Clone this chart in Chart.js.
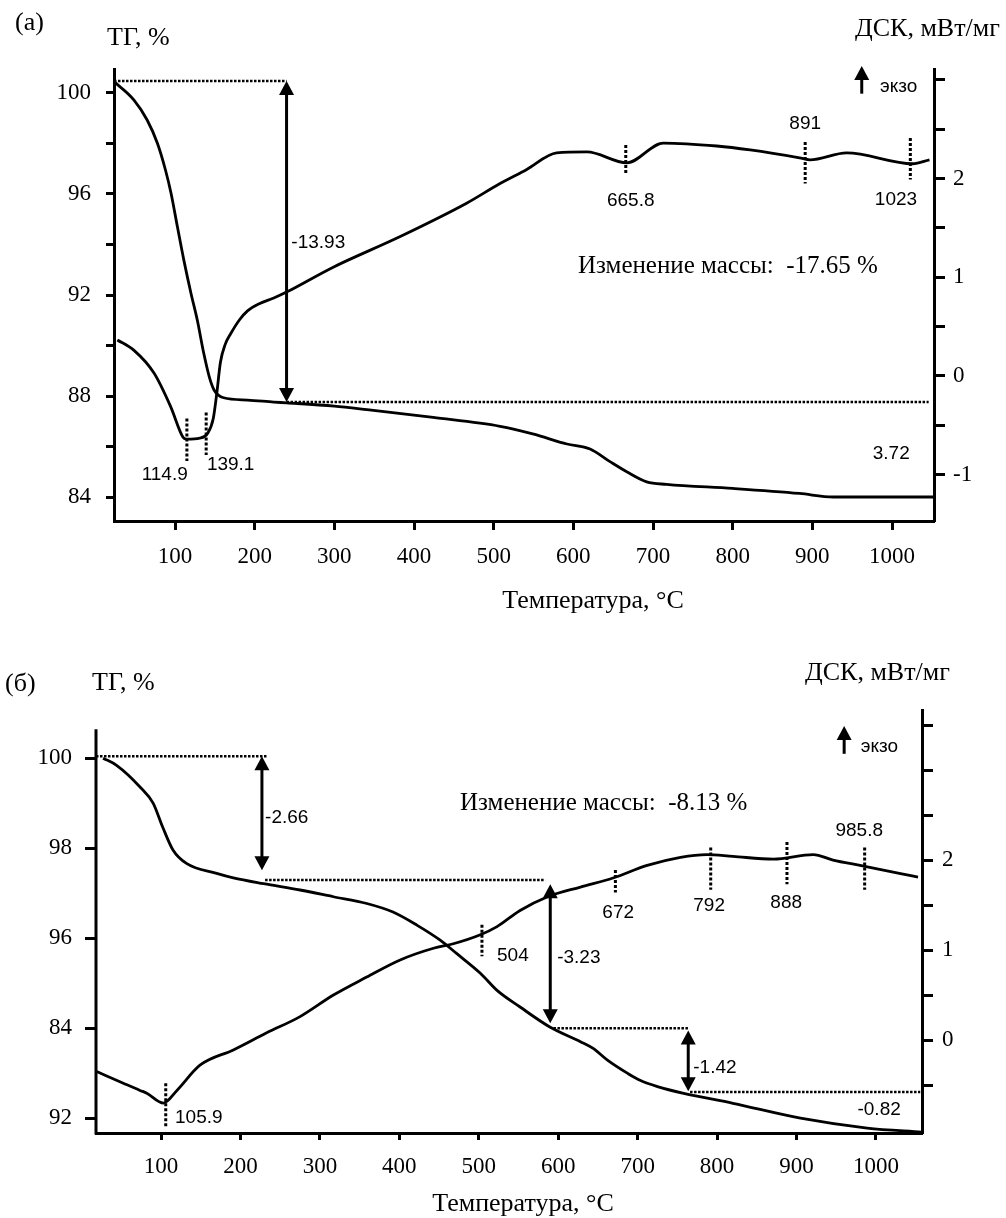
<!DOCTYPE html>
<html lang="ru">
<head>
<meta charset="utf-8">
<title>ТГ / ДСК</title>
<script src="https://cdn.jsdelivr.net/npm/chart.js@4/dist/chart.umd.min.js"></script>
<style>
  html, body { margin: 0; padding: 0; background: #fff; }
  #page { position: relative; width: 1006px; height: 1218px; overflow: hidden;
          font-family: 'Liberation Serif', 'Times New Roman', serif; color: #000; }
  canvas { position: absolute; left: 0; }
  .lbl { position: absolute; white-space: pre; line-height: 1; font-size: 26px; }
  .mid { transform: translateX(-50%); }
</style>
</head>
<body>
<div id="page">
  <canvas id="chartA" width="1006" height="620" style="top:0"></canvas>
  <canvas id="chartB" width="1006" height="598" style="top:620px"></canvas>

  <div class="lbl" style="left:15px;top:9px">(а)</div>
  <div class="lbl" style="left:107px;top:24px">ТГ, %</div>
  <div class="lbl" style="left:855px;top:15px">ДСК, мВт/мг</div>
  <div class="lbl" style="left:578px;top:252px;font-size:25px">Изменение массы:  -17.65 %</div>
  <div class="lbl mid" style="left:593px;top:587px">Температура, °С</div>

  <div class="lbl" style="left:5px;top:670px">(б)</div>
  <div class="lbl" style="left:92px;top:669px">ТГ, %</div>
  <div class="lbl" style="left:805px;top:659px">ДСК, мВт/мг</div>
  <div class="lbl" style="left:460px;top:789px;font-size:25px">Изменение массы:  -8.13 %</div>
  <div class="lbl mid" style="left:523px;top:1190px">Температура, °С</div>
</div>

<script>
// ---- (а) ----
const tgTempA = [23.5, 48.5, 65, 78, 88, 95, 103, 111, 120, 128, 136, 143, 149, 161, 191, 224, 240, 300, 341, 424, 508, 549, 592, 621, 646, 667, 692, 717, 800, 884, 926, 1052];
const tgValA  = [100.45, 99.72, 98.93, 98.0, 96.95, 96.03, 94.7, 93.39, 92.07, 91.0, 89.7, 88.76, 88.24, 87.93, 87.84, 87.76, 87.73, 87.6, 87.46, 87.15, 86.8, 86.5, 86.1, 85.9, 85.4, 85.0, 84.6, 84.5, 84.34, 84.14, 84.0, 84.0];
const dscTempA = [27.6, 48.5, 73.6, 94.5, 110, 115, 131, 141, 148, 152.5, 157, 163, 170, 181, 191, 205, 224, 240, 298, 382, 466, 508, 541, 579, 617, 667, 713, 780, 822, 884, 897, 943, 1026, 1047];
const dscValA  = [0.365, 0.26, 0.03, -0.31, -0.62, -0.64, -0.63, -0.58, -0.43, -0.17, 0.14, 0.32, 0.43, 0.57, 0.66, 0.73, 0.79, 0.85, 1.10, 1.41, 1.75, 1.95, 2.09, 2.26, 2.27, 2.16, 2.36, 2.33, 2.29, 2.21, 2.19, 2.26, 2.15, 2.19];

// ---- (б) ----
const tgTempB = [27, 44, 73.5, 90, 102, 115, 132, 170, 191, 229, 275, 317, 359, 392, 422, 451, 472, 502, 523, 552, 590, 628, 644, 662, 687, 703, 725, 758, 820, 905, 989, 1058];
const tgValB  = [100.0, 99.84, 99.36, 99.0, 98.47, 97.96, 97.66, 97.44, 97.34, 97.21, 97.07, 96.92, 96.77, 96.58, 96.29, 95.96, 95.66, 95.22, 94.84, 94.47, 94.02, 93.7, 93.55, 93.29, 93.0, 92.84, 92.7, 92.55, 92.33, 92.0, 91.78, 91.69];
const dscTempB = [19, 52.5, 73.5, 82, 103, 120, 149, 191, 233, 275, 317, 359, 401, 443, 468, 502, 523, 552, 586, 628, 669, 712, 754, 787, 820, 871, 921, 946, 980, 1031, 1053];
const dscValB  = [-0.35, -0.48, -0.56, -0.59, -0.70, -0.56, -0.28, -0.11, 0.08, 0.26, 0.50, 0.70, 0.89, 1.02, 1.07, 1.17, 1.26, 1.44, 1.59, 1.70, 1.80, 1.94, 2.03, 2.06, 2.04, 2.01, 2.06, 2.0, 1.94, 1.85, 1.81];

// ticks
const tempTicks = [100, 200, 300, 400, 500, 600, 700, 800, 900, 1000];
const tgTicksA  = [84, 86, 88, 90, 92, 94, 96, 98, 100];
const tgLabelsA = ['84', '', '88', '', '92', '', '96', '', '100'];
const dscTicksA  = [-1, -0.5, 0, 0.5, 1, 1.5, 2, 2.5, 3];
const dscLabelsA = ['-1', '', '0', '', '1', '', '2', '', ''];
const tgTicksB  = [92, 94, 96, 98, 100];
const tgLabelsB = ['92', '84', '96', '98', '100'];
const dscTicksB  = [-0.5, 0, 0.5, 1, 1.5, 2, 2.5, 3, 3.5];
const dscLabelsB = ['', '0', '', '1', '', '2', '', '', ''];

function pairs(xs, ys) {
    return xs.map((x, i) => ({ x: x, y: ys[i] }));
}

// annotation layer: dotted lines, arrows, peak labels (data coordinates)
function notesPlugin(notes) {
    return {
        id: 'notes',
        afterDatasetsDraw(chart) {
            const ctx = chart.ctx;
            const sx = chart.scales.x;
            const P = (t, v, ax) => [sx.getPixelForValue(t), chart.scales[ax].getPixelForValue(v)];
            const head = (x, y, d) => {           // tip at (x,y), d = +1 points down
                ctx.beginPath();
                ctx.moveTo(x, y);
                ctx.lineTo(x - 7.5, y - d * 14);
                ctx.lineTo(x + 7.5, y - d * 14);
                ctx.closePath();
                ctx.fill();
            };
            ctx.save();
            ctx.strokeStyle = '#000';
            ctx.fillStyle = '#000';
            notes.forEach(n => {
                if (n.kind === 'axisline') {
                    // left axis line that starts below the top of the plot
                    const y0 = chart.scales[n.axis].getPixelForValue(n.v0);
                    const xl = chart.chartArea.left;
                    ctx.lineWidth = 3;
                    ctx.setLineDash([]);
                    ctx.beginPath(); ctx.moveTo(xl, y0); ctx.lineTo(xl, chart.chartArea.bottom + 1.5); ctx.stroke();
                } else if (n.kind === 'hdots') {
                    const a = P(n.t0, n.v, n.axis), b = P(n.t1, n.v, n.axis);
                    ctx.lineWidth = 2.5;
                    ctx.setLineDash([2.5, 1.5]);
                    ctx.beginPath(); ctx.moveTo(a[0], a[1]); ctx.lineTo(b[0], b[1]); ctx.stroke();
                } else if (n.kind === 'vdots') {
                    const a = P(n.t, n.v0, n.axis), b = P(n.t, n.v1, n.axis);
                    ctx.lineWidth = 3;
                    ctx.setLineDash([3, 2]);
                    ctx.beginPath(); ctx.moveTo(a[0], a[1]); ctx.lineTo(b[0], b[1]); ctx.stroke();
                } else if (n.kind === 'arrow') {
                    const a = P(n.t, n.v0, n.axis), b = P(n.t, n.v1, n.axis);
                    const d = Math.sign(b[1] - a[1]);
                    let y0 = a[1];
                    if (n.heads === 2) { head(a[0], a[1], -d); y0 = a[1] + d * 13; }
                    head(b[0], b[1], d);
                    ctx.lineWidth = 3;
                    ctx.setLineDash([]);
                    ctx.beginPath(); ctx.moveTo(a[0], y0); ctx.lineTo(b[0], b[1] - d * 13); ctx.stroke();
                } else if (n.kind === 'text') {
                    const p = P(n.t, n.v, n.axis);
                    ctx.font = (n.size || 19) + "px 'Liberation Sans', Arial, sans-serif";
                    ctx.textAlign = n.align || 'center';
                    ctx.textBaseline = 'middle';
                    ctx.fillText(n.text, p[0], p[1]);
                }
            });
            ctx.restore();
        }
    };
}

const notesA = [
    { kind: 'hdots', axis: 'tg', v: 100.47, t0: 23.4, t1: 240 },
    { kind: 'arrow', axis: 'tg', t: 240, v0: 100.47, v1: 87.76, heads: 2 },
    { kind: 'hdots', axis: 'tg', v: 87.76, t0: 240, t1: 1046 },
    { kind: 'text', axis: 'tg', t: 246, v: 94.06, text: '-13.93', align: 'left' },
    { kind: 'vdots', axis: 'dsc', t: 114.9, v0: -0.43, v1: -0.86 },
    { kind: 'text', axis: 'dsc', t: 116, v: -1.0, text: '114.9', align: 'right' },
    { kind: 'vdots', axis: 'dsc', t: 139.1, v0: -0.37, v1: -0.80 },
    { kind: 'text', axis: 'dsc', t: 140, v: -0.90, text: '139.1', align: 'left' },
    { kind: 'vdots', axis: 'dsc', t: 665.8, v0: 2.34, v1: 2.04 },
    { kind: 'text', axis: 'dsc', t: 672, v: 1.78, text: '665.8' },
    { kind: 'vdots', axis: 'dsc', t: 891, v0: 2.37, v1: 1.95 },
    { kind: 'text', axis: 'dsc', t: 891, v: 2.56, text: '891' },
    { kind: 'vdots', axis: 'dsc', t: 1023, v0: 2.41, v1: 1.99 },
    { kind: 'text', axis: 'dsc', t: 1005, v: 1.79, text: '1023' },
    { kind: 'text', axis: 'dsc', t: 999, v: -0.79, text: '3.72' },
    { kind: 'arrow', axis: 'dsc', t: 962, v0: 2.86, v1: 3.14, heads: 1 },
    { kind: 'text', axis: 'dsc', t: 985, v: 2.93, text: 'экзо', align: 'left' }
];

const notesB = [
    { kind: 'axisline', axis: 'tg', v0: 100.64 },
    { kind: 'hdots', axis: 'tg', v: 100.04, t0: 18.1, t1: 233.5 },
    { kind: 'arrow', axis: 'tg', t: 227, v0: 100.04, v1: 97.51, heads: 2 },
    { kind: 'text', axis: 'tg', t: 231, v: 98.67, text: '-2.66', align: 'left' },
    { kind: 'hdots', axis: 'tg', v: 97.29, t0: 231, t1: 583.6 },
    { kind: 'arrow', axis: 'tg', t: 590, v0: 97.2, v1: 94.11, heads: 2 },
    { kind: 'text', axis: 'tg', t: 598.7, v: 95.56, text: '-3.23', align: 'left' },
    { kind: 'hdots', axis: 'tg', v: 94.0, t0: 594, t1: 763.7 },
    { kind: 'arrow', axis: 'tg', t: 763.7, v0: 93.95, v1: 92.6, heads: 2 },
    { kind: 'text', axis: 'tg', t: 770, v: 93.11, text: '-1.42', align: 'left' },
    { kind: 'hdots', axis: 'tg', v: 92.58, t0: 766, t1: 1055.8 },
    { kind: 'text', axis: 'tg', t: 1004, v: 92.18, text: '-0.82' },
    { kind: 'vdots', axis: 'dsc', t: 105.9, v0: -0.48, v1: -0.96 },
    { kind: 'text', axis: 'dsc', t: 117.6, v: -0.86, text: '105.9', align: 'left' },
    { kind: 'vdots', axis: 'dsc', t: 504, v0: 1.28, v1: 0.93 },
    { kind: 'text', axis: 'dsc', t: 523, v: 0.94, text: '504', align: 'left' },
    { kind: 'vdots', axis: 'dsc', t: 672, v0: 1.89, v1: 1.64 },
    { kind: 'text', axis: 'dsc', t: 675.5, v: 1.41, text: '672' },
    { kind: 'vdots', axis: 'dsc', t: 792, v0: 2.14, v1: 1.67 },
    { kind: 'text', axis: 'dsc', t: 790, v: 1.49, text: '792' },
    { kind: 'vdots', axis: 'dsc', t: 888, v0: 2.2, v1: 1.73 },
    { kind: 'text', axis: 'dsc', t: 887, v: 1.53, text: '888' },
    { kind: 'vdots', axis: 'dsc', t: 985.8, v0: 2.14, v1: 1.67 },
    { kind: 'text', axis: 'dsc', t: 979, v: 2.33, text: '985.8' },
    { kind: 'arrow', axis: 'dsc', t: 960, v0: 3.18, v1: 3.49, heads: 1 },
    { kind: 'text', axis: 'dsc', t: 981, v: 3.26, text: 'экзо', align: 'left' }
];

const serif = "'Liberation Serif', 'Times New Roman', serif";

function axis(opt) {
    return {
        type: 'linear',
        position: opt.position,
        min: opt.min,
        max: opt.max,
        afterBuildTicks: s => { s.ticks = opt.ticks.map(v => ({ value: v })); },
        afterFit: s => {
            if (opt.position === 'bottom') s.height = opt.size; else s.width = opt.size;
        },
        ticks: {
            autoSkip: false,
            maxRotation: 0,
            padding: opt.pad,
            color: '#000',
            font: { family: serif, size: 23 },
            callback: (v, i) => opt.labels ? opt.labels[i] : String(v)
        },
        grid: { drawOnChartArea: false, tickLength: opt.tl, tickWidth: 3, tickColor: '#000' },
        border: { display: opt.border !== false, color: '#000', width: 3 }
    };
}

function curve(points, axisId) {
    return {
        data: points,
        yAxisID: axisId,
        borderColor: '#000',
        backgroundColor: '#000',
        borderWidth: 2.8,
        pointRadius: 0,
        fill: false,
        cubicInterpolationMode: 'monotone'
    };
}

function makeChart(id, tg, dsc, s, notes) {
    return new Chart(document.getElementById(id), {
        type: 'line',
        data: {
            datasets: [curve(tg, 'tg'), curve(dsc, 'dsc')]
        },
        options: {
            responsive: false,
            animation: false,
            layout: { padding: { top: s.top, left: 0, right: 0, bottom: 0 } },
            plugins: { legend: { display: false }, tooltip: { enabled: false } },
            scales: {
                x: axis(s.x),
                tg: axis(s.tg),
                dsc: axis(s.dsc)
            }
        },
        plugins: [notesPlugin(notes)]
    });
}

makeChart('chartA', pairs(tgTempA, tgValA), pairs(dscTempA, dscValA), {
    top: 69,
    x:   { position: 'bottom', min: 23.4, max: 1052.7, ticks: tempTicks, size: 99, tl: 9, pad: 13 },
    tg:  { position: 'left', min: 83.05, max: 100.95, ticks: tgTicksA, labels: tgLabelsA, size: 114, tl: 8, pad: 15 },
    dsc: { position: 'right', min: -1.469, max: 3.11, ticks: dscTicksA, labels: dscLabelsA, size: 72, tl: 11, pad: 8 }
}, notesA);

makeChart('chartB', pairs(tgTempB, tgValB), pairs(dscTempB, dscValB), {
    top: 90,
    x:   { position: 'bottom', min: 18.1, max: 1058, ticks: tempTicks, size: 85, tl: 7, pad: 13 },
    tg:  { position: 'left', min: 91.67, max: 101.07, ticks: tgTicksB, labels: tgLabelsB, size: 96, tl: 11, pad: 13, border: false },
    dsc: { position: 'right', min: -1.033, max: 3.667, ticks: dscTicksB, labels: dscLabelsB, size: 84, tl: 11, pad: 9 }
}, notesB);
</script>
</body>
</html>
